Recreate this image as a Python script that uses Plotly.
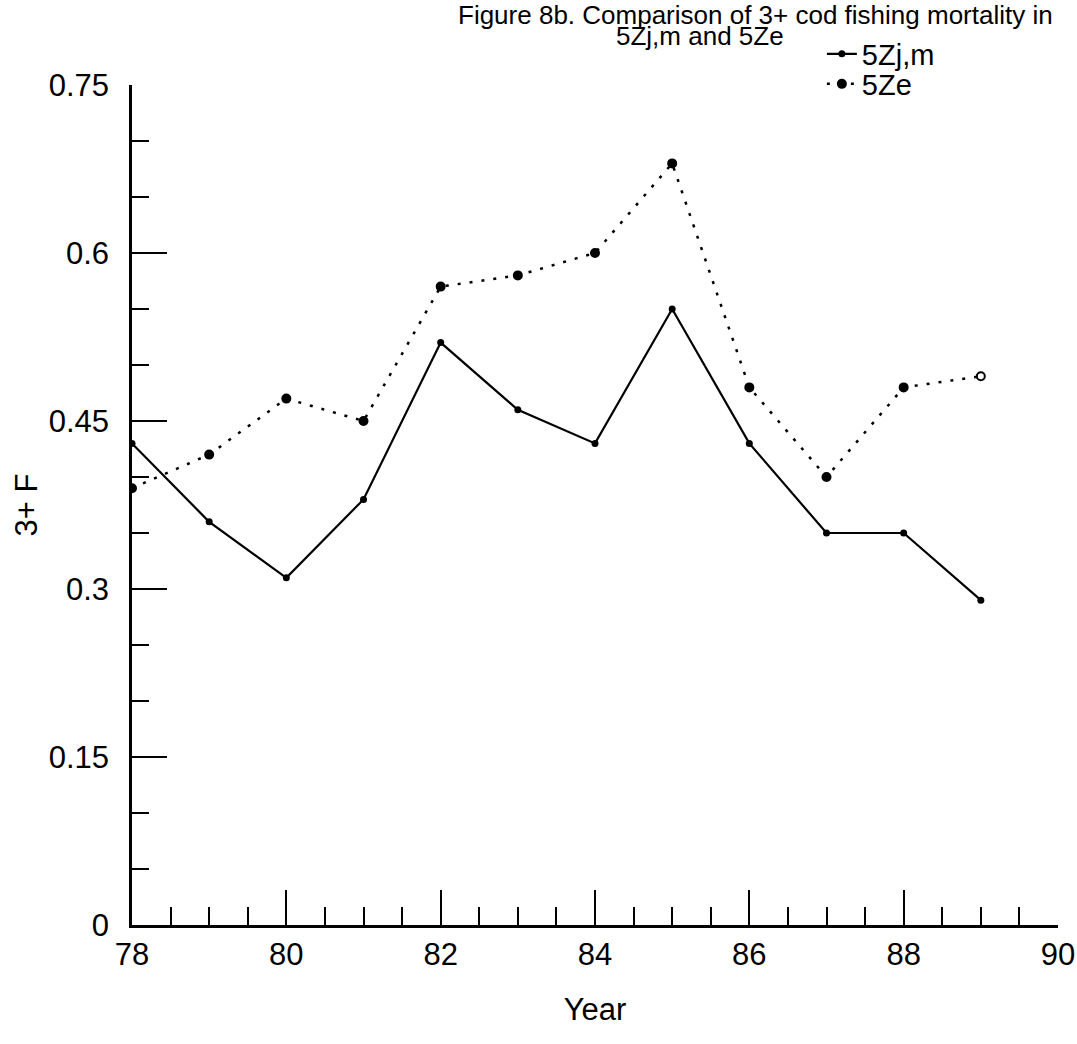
import plotly.graph_objects as go

years = [78, 79, 80, 81, 82, 83, 84, 85, 86, 87, 88, 89]
f_5zjm = [0.43, 0.36, 0.31, 0.38, 0.52, 0.46, 0.43, 0.55, 0.43, 0.35, 0.35, 0.29]
f_5ze = [0.39, 0.42, 0.47, 0.45, 0.57, 0.58, 0.60, 0.68, 0.48, 0.40, 0.48, 0.49]
ze_symbols = ["circle"] * 11 + ["circle-open"]

y_tickvals = [0, 0.15, 0.3, 0.45, 0.6, 0.75]
y_ticktext = ["0", "0.15", "0.3", "0.45", "0.6", "0.75"]
x_tickvals = [78, 80, 82, 84, 86, 88, 90]
x_ticktext = ["78", "80", "82", "84", "86", "88", "90"]
x_minor = [78.5, 79, 79.5, 80.5, 81, 81.5, 82.5, 83, 83.5, 84.5, 85, 85.5,
           86.5, 87, 87.5, 88.5, 89, 89.5]

FONT = "Liberation Sans, Arial, Helvetica, sans-serif"

fig = go.Figure()
fig.add_trace(go.Scatter(
    x=years, y=f_5zjm, name="5Zj,m", mode="lines+markers", legend="legend",
    line=dict(color="black", width=2.2),
    marker=dict(color="black", size=7, symbol="circle"),
))
fig.add_trace(go.Scatter(
    x=years, y=f_5ze, name="5Ze", mode="lines+markers", legend="legend2",
    line=dict(color="black", width=2.5, dash="3px,9px"),
    marker=dict(color="black", size=8, symbol=ze_symbols,
                line=dict(color="black", width=2)),
))

legend_common = dict(xanchor="left", yanchor="middle", bgcolor="rgba(0,0,0,0)",
                     font=dict(size=29), itemwidth=30)

fig.update_layout(
    width=1077, height=1044,
    margin=dict(l=132, r=19, t=85, b=119, autoexpand=False),
    paper_bgcolor="white", plot_bgcolor="white",
    font=dict(family=FONT, color="black", size=31),
    showlegend=True,
    legend=dict(x=0.745, y=(925 - 54) / 840, **legend_common),
    legend2=dict(x=0.745, y=(925 - 84) / 840, **legend_common),
    annotations=[
        dict(text="Figure 8b. Comparison of 3+ cod fishing mortality in",
             xref="paper", yref="paper", x=(755 - 132) / 926, y=(925 - 15) / 840,
             xanchor="center", yanchor="middle", showarrow=False,
             font=dict(size=26)),
        dict(text="5Zj,m and 5Ze",
             xref="paper", yref="paper", x=(700 - 132) / 926, y=(925 - 36) / 840,
             xanchor="center", yanchor="middle", showarrow=False,
             font=dict(size=26)),
    ],
)

fig.update_xaxes(
    range=[78, 90], tickvals=x_tickvals, ticktext=x_ticktext, automargin=False,
    showgrid=False, zeroline=False, showline=True, linecolor="black", linewidth=2.5,
    ticks="inside", ticklen=35, tickwidth=2, tickcolor="black",
    minor=dict(ticks="inside", ticklen=18, tickwidth=2, tickcolor="black",
               tickvals=x_minor),
    tickfont=dict(size=31),
    title=dict(text="Year", font=dict(size=31), standoff=28),
)
fig.update_yaxes(
    range=[0, 0.75], tickvals=y_tickvals, ticktext=y_ticktext, automargin=False,
    showgrid=False, zeroline=False, showline=True, linecolor="black", linewidth=2.5,
    ticks="inside", ticklen=35, tickwidth=2, tickcolor="black",
    minor=dict(ticks="inside", ticklen=17, tickwidth=2, tickcolor="black",
               dtick=0.05, tick0=0),
    tickfont=dict(size=31), ticklabelstandoff=14,
    title=dict(text="3+ F", font=dict(size=31), standoff=2),
)

fig.write_html("out.html")
